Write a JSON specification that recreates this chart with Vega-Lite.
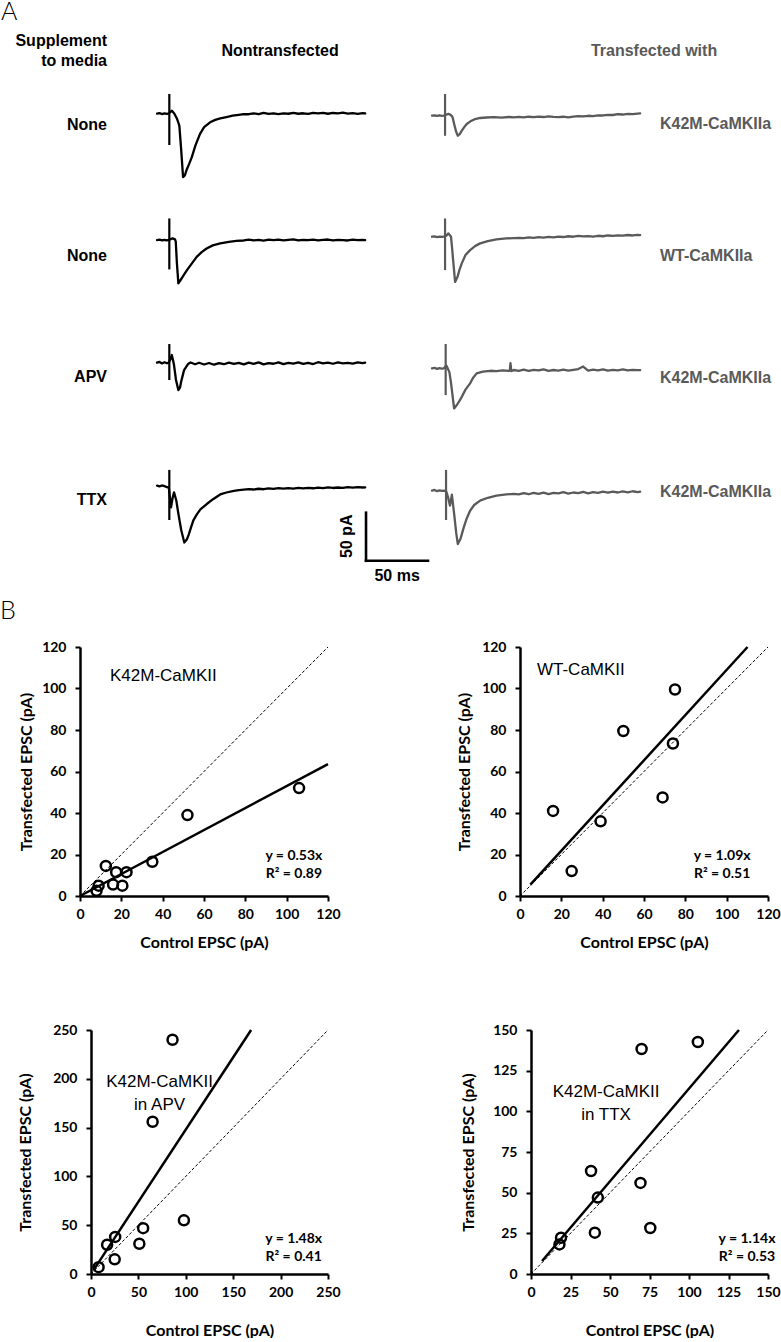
{
  "$schema": "https://vega.github.io/schema/vega-lite/v6.json",
  "background": "white",
  "padding": 0,
  "spacing": 15,
  "config": {
    "view": {"stroke": null},
    "axis": {
      "domainColor": "#000", "domainWidth": 2.5, "tickColor": "#000", "tickWidth": 2, "tickSize": 5,
      "labelFont": "Lato", "labelFontSize": 14, "labelFontWeight": "bold", "labelColor": "#000",
      "labelFlush": false, "labelOverlap": false,
      "titleFont": "Lato", "titleFontSize": 16, "titleFontWeight": "bold", "titleColor": "#000", "grid": false
    }
  },
  "vconcat": [
    {
      "data": {"values": [
        {"kind": "trace", "row": 1, "col": "N", "at": 9.9, "ahi": 20.5, "alo": -32.6,
         "t": [0,2,4,6,8,9.5,11,12,14,16,18,19.5,21,22.5,24,26,28,31,34.7,38,42.8,47,51,56,61,66,70,74,78,82,86,90,94,98,102,106,110,114,118,122,126,130,134,138,142,146,150,154,158,162,166,168],
         "v": [0,0.5,-0.4,0.3,-0.2,0.3,2,3,0,-5,-12.5,-38,-66,-64,-58,-52,-45.5,-33,-21,-14,-9,-6.5,-5,-3.5,-2,-1.2,-0.5,-0.6,0.3,-0.6,0.7,-0.2,0.4,-0.4,0.3,-0.1,0.8,-0.1,0.4,-0.3,0.9,0.2,0.8,-0.1,0.7,0.3,1.0,0.1,0.5,-0.2,0.6,0.2]},
        {"kind": "trace", "row": 2, "col": "N", "at": 9.9, "ahi": 21, "alo": -32,
         "t": [0,2,4,6,8,9.5,11,12.5,14.5,15.1,16,17.2,19,21,24,28,32,36,40,45,51,58,64,70,74,78,82,86,90,94,98,102,106,110,114,118,122,126,130,134,138,142,146,150,154,158,162,166,168],
         "v": [-1.5,-1.1,-1.8,-1.3,-1.7,-1.4,-0.5,0.3,-0.7,-3,-25,-46.5,-43,-39,-33,-26,-19,-14,-10.2,-7,-5,-3.3,-2.4,-1.9,-1.0,-1.8,-1.2,-2.0,-1.1,-1.6,-0.9,-1.7,-1.3,-0.8,-1.9,-1.2,-1.6,-1.0,-1.8,-1.3,-0.9,-1.7,-1.2,-1.5,-1.9,-1.1,-1.6,-1.2,-1.5]},
        {"kind": "trace", "row": 3, "col": "N", "at": 9.9, "ahi": 20.4, "alo": -17,
         "t": [0,2,4,6,8,9.5,11,11.9,13,13.7,15.3,17.2,18.5,19.4,21.8,25,27,30.7,34,38,42,46,50,54,58,62,66,70,74,78,82,86,90,94,98,102,106,110,114,118,122,126,130,134,138,142,146,150,154,158,162,166,168],
         "v": [1,1.8,0.2,1.5,0.4,1.2,5,9,3,-1.5,-17,-27.5,-25,-19,-6.7,-0.4,1.2,-0.6,0.9,-0.9,0.7,-1.1,0.5,-0.6,1.0,-0.3,0.9,-0.7,1.1,-0.2,1.3,-0.8,0.6,-0.1,1.4,-0.5,0.9,0.1,1.3,-0.3,0.8,-0.4,1.5,0.2,1.0,-0.1,1.4,0.3,0.9,0.1,1.4,0.5,1.0]},
        {"kind": "trace", "row": 4, "col": "N", "at": 9.9, "ahi": 19.5, "alo": -32.6,
         "t": [0,2,4,6,8,9.5,11.3,12.5,13.7,15.5,17.2,19.5,22,24,25.5,27.5,29.3,32,35,40.1,45.5,51,56,62,66,70,74,78,82,86,90,94,98,102,106,110,114,118,122,126,130,134,138,142,146,150,154,158,162,166,168],
         "v": [3.1,2.4,3.3,2.6,1.5,1,-19.5,-10,-3.8,-12,-26,-43,-56,-53,-48,-40,-33,-27,-21.5,-16,-10.7,-6,-4,-2.2,-1.5,-1.0,-0.4,-0.9,-0.1,-0.6,0.2,-0.3,0.5,0.0,0.6,0.1,0.8,0.3,0.9,0.4,1.1,0.6,1.3,0.7,1.2,0.9,1.6,1.0,1.5,1.2,1.4]},
        {"kind": "trace", "row": 1, "col": "T", "at": 10.5, "ahi": 20.5, "alo": -23,
         "t": [0,2,4,6,8,9.5,11.5,13.2,15,16.5,18,19.5,20.8,22.5,24,26,28,31,34,38.8,44,50,56,62,66,70,74,78,82,86,90,94,98,102,106,110,114,118,122,126,130,134,138,142,146,150,154,158,162,166,168],
         "v": [-2.1,-1.7,-2.4,-1.9,-2.3,-2,-1,-0.3,-1.2,-3.5,-11.5,-19,-23,-21,-17.7,-14,-10.7,-8,-6,-4.5,-4,-3.6,-4.1,-3.5,-3.8,-3.3,-3.9,-3.2,-3.6,-3.0,-3.5,-2.8,-3.4,-3.7,-3.2,-3.8,-3.1,-2.6,-2.9,-2.2,-2.5,-1.7,-1.9,-1.2,-1.4,-0.6,-0.9,-0.2,-0.5,0.1,0.3]},
        {"kind": "trace", "row": 2, "col": "T", "at": 10.5, "ahi": 21, "alo": -32.7,
         "t": [0,2,4,6,8,9.5,11.5,13.2,15.3,16.2,17,18.6,20.5,22,24,27,30.7,35,38.8,45,52,60,66,70,74,78,82,86,90,94,98,102,106,110,114,118,122,126,130,134,138,142,146,150,154,158,162,166,168],
         "v": [2,2.4,1.7,2.2,1.8,2,3,5.5,2,-10,-22,-45,-40,-33,-25.7,-17,-11.9,-7.5,-4.9,-2.5,-0.7,0.3,0.6,0.9,0.5,1.3,0.8,1.6,1.1,1.9,1.4,2.2,1.7,2.5,2.0,2.8,2.3,2.6,2.1,3.0,2.5,3.3,2.8,3.5,3.1,3.8,3.3,4.0,3.75]},
        {"kind": "trace", "row": 3, "col": "T", "at": 11, "ahi": 20.4, "alo": -32.7,
         "t": [0,2,4,6,8,9.5,11.5,12.5,14,15.3,16.5,17.8,20,22,24,27,30.7,33,36,41,47,52,57,62,62.8,63.3,64,66,70,74,78,82,86,90,94,98,102,106,110,114,118,122,126,130,134,138,142,146,150,154,158,162,166,168],
         "v": [-4.9,-4.3,-5.4,-4.6,-5.2,-4.8,-2,-4.6,-8.8,-20,-32.7,-46.6,-43,-39,-34.5,-27,-20.5,-15,-10.1,-8.3,-7.4,-7.8,-6.9,-7.5,-7,0.5,-7.8,-6.6,-7.4,-6.2,-7.6,-6.4,-7.1,-6.0,-7.5,-6.6,-7.2,-6.1,-7.3,-6.5,-5.6,-3.0,-7.2,-6.3,-7.0,-5.9,-7.3,-6.4,-6.9,-6.0,-7.1,-6.5,-6.8,-6.7]},
        {"kind": "trace", "row": 4, "col": "T", "at": 11.3, "ahi": 19.5, "alo": -32.6,
         "t": [0,2,4,6,8,9.5,11.5,13,14.5,16,18,19.5,20.8,23,25.6,28,30.7,34,38.8,45,52,60,66,70,74,78,82,86,90,94,98,102,106,110,114,118,122,126,130,134,138,142,146,150,154,158,162,166,168],
         "v": [-2.1,-1.3,-2.6,-1.8,-2.4,-2,-3,-9.4,-17.7,-6.3,-28,-46,-57.6,-52,-40.3,-31,-23,-17,-12.5,-9.5,-7.3,-6,-5.5,-5.9,-4.6,-5.8,-4.3,-5.5,-4.1,-5.6,-4.4,-5.0,-3.7,-5.2,-4.0,-4.6,-3.4,-4.8,-3.6,-4.5,-3.2,-4.2,-3.0,-4.0,-2.9,-3.8,-2.7,-3.5,-3.1]},
        {"kind": "rowlabel", "row": 1, "col": "N", "label": "None"},
        {"kind": "rowlabel", "row": 2, "col": "N", "label": "None"},
        {"kind": "rowlabel", "row": 3, "col": "N", "label": "APV"},
        {"kind": "rowlabel", "row": 4, "col": "N", "label": "TTX"},
        {"kind": "construct", "row": 1, "col": "T", "label": "K42M-CaMKIIa"},
        {"kind": "construct", "row": 2, "col": "T", "label": "WT-CaMKIIa"},
        {"kind": "construct", "row": 3, "col": "T", "label": "K42M-CaMKIIa"},
        {"kind": "construct", "row": 4, "col": "T", "label": "K42M-CaMKIIa"},
        {"kind": "colhead", "row": 1, "col": "N", "label": "Nontransfected"},
        {"kind": "colhead", "row": 1, "col": "T", "label": "Transfected with"},
        {"kind": "corner1", "row": 1, "col": "N", "label": "Supplement"},
        {"kind": "corner2", "row": 1, "col": "N", "label": "to media"},
        {"kind": "panel", "row": 1, "col": "N", "label": "A"},
        {"kind": "scale", "row": 4, "col": "N", "label": "50 pA", "label2": "50 ms"}
      ]},
      "facet": {
        "row": {"field": "row", "type": "ordinal", "header": {"labels": false, "title": null}},
        "column": {"field": "col", "type": "nominal", "header": {"labels": false, "title": null}}
      },
      "spacing": 0,
      "bounds": "flush",
      "spec": {
        "width": 275,
        "height": 125,
        "layer": [
          {
            "transform": [{"filter": "datum.kind == 'trace'"}, {"flatten": ["t", "v"]}],
            "mark": {"type": "line", "strokeWidth": 2.3, "strokeJoin": "round", "strokeCap": "round"},
            "encoding": {
              "x": {"field": "t", "type": "quantitative", "scale": {"domain": [-62.2, 159.8], "nice": false, "zero": false}, "axis": null},
              "y": {"field": "v", "type": "quantitative", "scale": {"domain": [-95, 35], "nice": false, "zero": false}, "axis": null},
              "color": {"field": "col", "type": "nominal", "scale": {"domain": ["N", "T"], "range": ["#000000", "#5a5a5a"]}, "legend": null}
            }
          },
          {
            "transform": [{"filter": "datum.kind == 'trace'"}],
            "mark": {"type": "rule", "strokeWidth": 2.2},
            "encoding": {
              "x": {"field": "at", "type": "quantitative", "scale": {"domain": [-62.2, 159.8], "nice": false, "zero": false}, "axis": null},
              "y": {"field": "ahi", "type": "quantitative", "scale": {"domain": [-95, 35], "nice": false, "zero": false}, "axis": null},
              "y2": {"field": "alo"},
              "color": {"field": "col", "type": "nominal", "legend": null}
            }
          },
          {"transform": [{"filter": "datum.kind == 'rowlabel' && datum.row == 1"}],
           "mark": {"type": "text", "align": "right", "baseline": "middle", "font": "Liberation Sans", "fontSize": 16, "fontWeight": "bold", "color": "#000"},
           "encoding": {"x": {"datum": -40.4}, "y": {"datum": -11.5}, "text": {"field": "label"}}},
          {"transform": [{"filter": "datum.kind == 'rowlabel' && datum.row == 2"}],
           "mark": {"type": "text", "align": "right", "baseline": "middle", "font": "Liberation Sans", "fontSize": 16, "fontWeight": "bold", "color": "#000"},
           "encoding": {"x": {"datum": -40.4}, "y": {"datum": -17.7}, "text": {"field": "label"}}},
          {"transform": [{"filter": "datum.kind == 'rowlabel' && datum.row == 3"}],
           "mark": {"type": "text", "align": "right", "baseline": "middle", "font": "Liberation Sans", "fontSize": 16, "fontWeight": "bold", "color": "#000"},
           "encoding": {"x": {"datum": -40.4}, "y": {"datum": -14.1}, "text": {"field": "label"}}},
          {"transform": [{"filter": "datum.kind == 'rowlabel' && datum.row == 4"}],
           "mark": {"type": "text", "align": "right", "baseline": "middle", "font": "Liberation Sans", "fontSize": 16, "fontWeight": "bold", "color": "#000"},
           "encoding": {"x": {"datum": -40.4}, "y": {"datum": -11.5}, "text": {"field": "label"}}},
          {"transform": [{"filter": "datum.kind == 'construct' && datum.row == 1"}],
           "mark": {"type": "text", "align": "left", "baseline": "middle", "font": "Liberation Sans", "fontSize": 16, "fontWeight": "bold", "color": "#5a5a5a"},
           "encoding": {"x": {"datum": 184}, "y": {"datum": -11.2}, "text": {"field": "label"}}},
          {"transform": [{"filter": "datum.kind == 'construct' && datum.row == 2"}],
           "mark": {"type": "text", "align": "left", "baseline": "middle", "font": "Liberation Sans", "fontSize": 16, "fontWeight": "bold", "color": "#5a5a5a"},
           "encoding": {"x": {"datum": 184}, "y": {"datum": -17.7}, "text": {"field": "label"}}},
          {"transform": [{"filter": "datum.kind == 'construct' && datum.row == 3"}],
           "mark": {"type": "text", "align": "left", "baseline": "middle", "font": "Liberation Sans", "fontSize": 16, "fontWeight": "bold", "color": "#5a5a5a"},
           "encoding": {"x": {"datum": 184}, "y": {"datum": -14.6}, "text": {"field": "label"}}},
          {"transform": [{"filter": "datum.kind == 'construct' && datum.row == 4"}],
           "mark": {"type": "text", "align": "left", "baseline": "middle", "font": "Liberation Sans", "fontSize": 16, "fontWeight": "bold", "color": "#5a5a5a"},
           "encoding": {"x": {"datum": 184}, "y": {"datum": -3.1}, "text": {"field": "label"}}},
          {"transform": [{"filter": "datum.kind == 'colhead' && datum.col == 'N'"}],
           "mark": {"type": "text", "align": "center", "baseline": "middle", "font": "Liberation Sans", "fontSize": 16, "fontWeight": "bold", "color": "#000"},
           "encoding": {"x": {"datum": 99.3}, "y": {"datum": 65.6}, "text": {"field": "label"}}},
          {"transform": [{"filter": "datum.kind == 'colhead' && datum.col == 'T'"}],
           "mark": {"type": "text", "align": "center", "baseline": "middle", "font": "Liberation Sans", "fontSize": 16, "fontWeight": "bold", "color": "#5a5a5a"},
           "encoding": {"x": {"datum": 179.2}, "y": {"datum": 65.6}, "text": {"field": "label"}}},
          {"transform": [{"filter": "datum.kind == 'corner1'"}],
           "mark": {"type": "text", "align": "right", "baseline": "middle", "font": "Liberation Sans", "fontSize": 16, "fontWeight": "bold", "color": "#000"},
           "encoding": {"x": {"datum": -40.4}, "y": {"datum": 76}, "text": {"field": "label"}}},
          {"transform": [{"filter": "datum.kind == 'corner2'"}],
           "mark": {"type": "text", "align": "right", "baseline": "middle", "font": "Liberation Sans", "fontSize": 16, "fontWeight": "bold", "color": "#000"},
           "encoding": {"x": {"datum": -40.4}, "y": {"datum": 55.2}, "text": {"field": "label"}}},
          {"transform": [{"filter": "datum.kind == 'panel'"}],
           "mark": {"type": "text", "align": "left", "baseline": "middle", "font": "Lato", "fontSize": 25, "fontWeight": 300, "color": "#000"},
           "encoding": {"x": {"datum": -126}, "y": {"datum": 105.7}, "text": {"field": "label"}}},
          {"transform": [{"filter": "datum.kind == 'scale'"}],
           "mark": {"type": "rule", "strokeWidth": 2.6, "color": "#000", "strokeCap": "square"},
           "encoding": {"x": {"datum": 168.7}, "y": {"datum": -25}, "y2": {"datum": -75}}},
          {"transform": [{"filter": "datum.kind == 'scale'"}],
           "mark": {"type": "rule", "strokeWidth": 2.6, "color": "#000", "strokeCap": "square"},
           "encoding": {"x": {"datum": 168.7}, "x2": {"datum": 218.7}, "y": {"datum": -75}}},
          {"transform": [{"filter": "datum.kind == 'scale'"}],
           "mark": {"type": "text", "align": "center", "baseline": "middle", "angle": 270, "font": "Liberation Sans", "fontSize": 16, "fontWeight": "bold", "color": "#000"},
           "encoding": {"x": {"datum": 153.1}, "y": {"datum": -49.5}, "text": {"field": "label"}}},
          {"transform": [{"filter": "datum.kind == 'scale'"}],
           "mark": {"type": "text", "align": "center", "baseline": "middle", "font": "Liberation Sans", "fontSize": 16, "fontWeight": "bold", "color": "#000"},
           "encoding": {"x": {"datum": 193.8}, "y": {"datum": -90.6}, "text": {"field": "label2"}}}
        ]
      }
    },
    {
      "concat": [
        {
          "width": 248, "height": 249,
          "layer": [
            {"data": {"values": [{"x0": 0, "y0": 0, "x1": 120, "y1": 120}]},
             "mark": {"type": "rule", "strokeDash": [3, 2], "strokeWidth": 1, "color": "#000"},
             "encoding": {
               "x": {"field": "x0", "type": "quantitative", "scale": {"domain": [0, 120], "nice": false}, "axis": {"values": [0,20,40,60,80,100,120], "title": "Control EPSC (pA)", "titlePadding": 13, "labelPadding": 6}},
               "y": {"field": "y0", "type": "quantitative", "scale": {"domain": [0, 120], "nice": false}, "axis": {"values": [0,20,40,60,80,100,120], "title": "Transfected EPSC (pA)", "titlePadding": 7, "labelPadding": 9}},
               "x2": {"field": "x1"}, "y2": {"field": "y1"}}},
            {"data": {"values": [{"x0": 0, "y0": 0, "x1": 120, "y1": 63.6}]},
             "mark": {"type": "rule", "strokeWidth": 2.5, "color": "#000"},
             "encoding": {"x": {"field": "x0", "type": "quantitative"}, "y": {"field": "y0", "type": "quantitative"}, "x2": {"field": "x1"}, "y2": {"field": "y1"}}},
            {"data": {"values": [
               {"control": 106, "transfected": 52}, {"control": 52, "transfected": 39}, {"control": 35, "transfected": 16.5},
               {"control": 12.5, "transfected": 14.5}, {"control": 17.5, "transfected": 11.5}, {"control": 22.5, "transfected": 11.5},
               {"control": 9, "transfected": 5}, {"control": 16, "transfected": 5.5}, {"control": 20.5, "transfected": 5}, {"control": 8, "transfected": 2.5}]},
             "mark": {"type": "point", "shape": "circle", "filled": false, "size": 100, "strokeWidth": 2.5, "color": "#000", "opacity": 1},
             "encoding": {"x": {"field": "control", "type": "quantitative"}, "y": {"field": "transfected", "type": "quantitative"}}},
            {"data": {"values": [{"label": "K42M-CaMKII"}]},
             "mark": {"type": "text", "font": "Liberation Sans", "fontSize": 17, "align": "left", "baseline": "middle", "color": "#000"},
             "encoding": {"x": {"datum": 14.5}, "y": {"datum": 106}, "text": {"field": "label"}}},
            {"data": {"values": [{"label": ["y = 0.53x", "R² = 0.89"]}]},
             "mark": {"type": "text", "font": "Lato", "fontSize": 14, "fontWeight": "bold", "align": "center", "baseline": "middle", "lineHeight": 17.5, "color": "#000"},
             "encoding": {"x": {"datum": 103.5}, "y": {"datum": 19.1}, "text": {"field": "label"}}},
            {"data": {"values": [{"label": "B"}]},
             "mark": {"type": "text", "font": "Lato", "fontSize": 25, "fontWeight": 300, "align": "left", "baseline": "middle", "color": "#000"},
             "encoding": {"x": {"datum": -38.7}, "y": {"datum": 137.3}, "text": {"field": "label"}}}
          ]
        },
        {
          "width": 248, "height": 249,
          "layer": [
            {"data": {"values": [{"x0": 0, "y0": 0, "x1": 120, "y1": 120}]},
             "mark": {"type": "rule", "strokeDash": [3, 2], "strokeWidth": 1, "color": "#000"},
             "encoding": {
               "x": {"field": "x0", "type": "quantitative", "scale": {"domain": [0, 120], "nice": false}, "axis": {"values": [0,20,40,60,80,100,120], "title": "Control EPSC (pA)", "titlePadding": 13, "labelPadding": 6}},
               "y": {"field": "y0", "type": "quantitative", "scale": {"domain": [0, 120], "nice": false}, "axis": {"values": [0,20,40,60,80,100,120], "title": "Transfected EPSC (pA)", "titlePadding": 9, "labelPadding": 9}},
               "x2": {"field": "x1"}, "y2": {"field": "y1"}}},
            {"data": {"values": [{"x0": 5, "y0": 5.45, "x1": 110.1, "y1": 120}]},
             "mark": {"type": "rule", "strokeWidth": 2.5, "color": "#000"},
             "encoding": {"x": {"field": "x0", "type": "quantitative"}, "y": {"field": "y0", "type": "quantitative"}, "x2": {"field": "x1"}, "y2": {"field": "y1"}}},
            {"data": {"values": [
               {"control": 75, "transfected": 99.5}, {"control": 50, "transfected": 79.5}, {"control": 74, "transfected": 73.5},
               {"control": 69, "transfected": 47.5}, {"control": 16, "transfected": 41}, {"control": 39, "transfected": 36},
               {"control": 25, "transfected": 12}]},
             "mark": {"type": "point", "shape": "circle", "filled": false, "size": 100, "strokeWidth": 2.5, "color": "#000", "opacity": 1},
             "encoding": {"x": {"field": "control", "type": "quantitative"}, "y": {"field": "transfected", "type": "quantitative"}}},
            {"data": {"values": [{"label": "WT-CaMKII"}]},
             "mark": {"type": "text", "font": "Liberation Sans", "fontSize": 17, "align": "left", "baseline": "middle", "color": "#000"},
             "encoding": {"x": {"datum": 8.2}, "y": {"datum": 108.8}, "text": {"field": "label"}}},
            {"data": {"values": [{"label": ["y = 1.09x", "R² = 0.51"]}]},
             "mark": {"type": "text", "font": "Lato", "fontSize": 14, "fontWeight": "bold", "align": "center", "baseline": "middle", "lineHeight": 17.5, "color": "#000"},
             "encoding": {"x": {"datum": 97.8}, "y": {"datum": 19.1}, "text": {"field": "label"}}}
          ]
        },
        {
          "width": 248, "height": 244,
          "layer": [
            {"data": {"values": [{"x0": 0, "y0": 0, "x1": 250, "y1": 250}]},
             "mark": {"type": "rule", "strokeDash": [3, 2], "strokeWidth": 1, "color": "#000"},
             "encoding": {
               "x": {"field": "x0", "type": "quantitative", "scale": {"domain": [0, 250], "nice": false, "range": [11, 248]}, "axis": {"values": [0,50,100,150,200,250], "title": "Control EPSC (pA)", "titlePadding": 23, "labelPadding": 6}},
               "y": {"field": "y0", "type": "quantitative", "scale": {"domain": [0, 250], "nice": false}, "axis": {"values": [0,50,100,150,200,250], "title": "Transfected EPSC (pA)", "titlePadding": 19, "labelPadding": 9, "offset": -11}},
               "x2": {"field": "x1"}, "y2": {"field": "y1"}}},
            {"data": {"values": [{"x0": 3, "y0": 4.44, "x1": 168.9, "y1": 250}]},
             "mark": {"type": "rule", "strokeWidth": 2.5, "color": "#000"},
             "encoding": {"x": {"field": "x0", "type": "quantitative"}, "y": {"field": "y0", "type": "quantitative"}, "x2": {"field": "x1"}, "y2": {"field": "y1"}}},
            {"data": {"values": [
               {"control": 86, "transfected": 240}, {"control": 65, "transfected": 156}, {"control": 98, "transfected": 55},
               {"control": 55, "transfected": 47}, {"control": 51, "transfected": 31}, {"control": 25.5, "transfected": 38},
               {"control": 17, "transfected": 30}, {"control": 25, "transfected": 15}, {"control": 8, "transfected": 7}]},
             "mark": {"type": "point", "shape": "circle", "filled": false, "size": 100, "strokeWidth": 2.5, "color": "#000", "opacity": 1},
             "encoding": {"x": {"field": "control", "type": "quantitative"}, "y": {"field": "transfected", "type": "quantitative"}}},
            {"data": {"values": [{"label": ["K42M-CaMKII", "in APV"]}]},
             "mark": {"type": "text", "font": "Liberation Sans", "fontSize": 17, "align": "center", "baseline": "middle", "lineHeight": 23, "color": "#000"},
             "encoding": {"x": {"datum": 72.3}, "y": {"datum": 196.4}, "text": {"field": "label"}}},
            {"data": {"values": [{"label": ["y = 1.48x", "R² = 0.41"]}]},
             "mark": {"type": "text", "font": "Lato", "fontSize": 14, "fontWeight": "bold", "align": "center", "baseline": "middle", "lineHeight": 18.5, "color": "#000"},
             "encoding": {"x": {"datum": 213.8}, "y": {"datum": 36.2}, "text": {"field": "label"}}}
          ]
        },
        {
          "width": 248, "height": 244,
          "layer": [
            {"data": {"values": [{"x0": 0, "y0": 0, "x1": 150, "y1": 150}]},
             "mark": {"type": "rule", "strokeDash": [3, 2], "strokeWidth": 1, "color": "#000"},
             "encoding": {
               "x": {"field": "x0", "type": "quantitative", "scale": {"domain": [0, 150], "nice": false, "range": [11, 248]}, "axis": {"values": [0,25,50,75,100,125,150], "title": "Control EPSC (pA)", "titlePadding": 23, "labelPadding": 6}},
               "y": {"field": "y0", "type": "quantitative", "scale": {"domain": [0, 150], "nice": false}, "axis": {"values": [0,25,50,75,100,125,150], "title": "Transfected EPSC (pA)", "titlePadding": 16, "labelPadding": 9, "offset": -11}},
               "x2": {"field": "x1"}, "y2": {"field": "y1"}}},
            {"data": {"values": [{"x0": 7, "y0": 8, "x1": 131.6, "y1": 150}]},
             "mark": {"type": "rule", "strokeWidth": 2.5, "color": "#000"},
             "encoding": {"x": {"field": "x0", "type": "quantitative"}, "y": {"field": "y0", "type": "quantitative"}, "x2": {"field": "x1"}, "y2": {"field": "y1"}}},
            {"data": {"values": [
               {"control": 105.6, "transfected": 142.6}, {"control": 70, "transfected": 138.3}, {"control": 38, "transfected": 63.3},
               {"control": 69.3, "transfected": 56}, {"control": 42.3, "transfected": 47}, {"control": 40.4, "transfected": 25.4},
               {"control": 75.5, "transfected": 28.3}, {"control": 19, "transfected": 22.3}, {"control": 18, "transfected": 18.2}]},
             "mark": {"type": "point", "shape": "circle", "filled": false, "size": 100, "strokeWidth": 2.5, "color": "#000", "opacity": 1},
             "encoding": {"x": {"field": "control", "type": "quantitative"}, "y": {"field": "transfected", "type": "quantitative"}}},
            {"data": {"values": [{"label": ["K42M-CaMKII", "in TTX"]}]},
             "mark": {"type": "text", "font": "Liberation Sans", "fontSize": 17, "align": "center", "baseline": "middle", "lineHeight": 23, "color": "#000"},
             "encoding": {"x": {"datum": 47.5}, "y": {"datum": 111.9}, "text": {"field": "label"}}},
            {"data": {"values": [{"label": ["y = 1.14x", "R² = 0.53"]}]},
             "mark": {"type": "text", "font": "Lato", "fontSize": 14, "fontWeight": "bold", "align": "center", "baseline": "middle", "lineHeight": 18.5, "color": "#000"},
             "encoding": {"x": {"datum": 136.7}, "y": {"datum": 21.75}, "text": {"field": "label"}}}
          ]
        }
      ],
      "columns": 2,
      "spacing": {"row": 73, "column": 115}
    }
  ]
}
